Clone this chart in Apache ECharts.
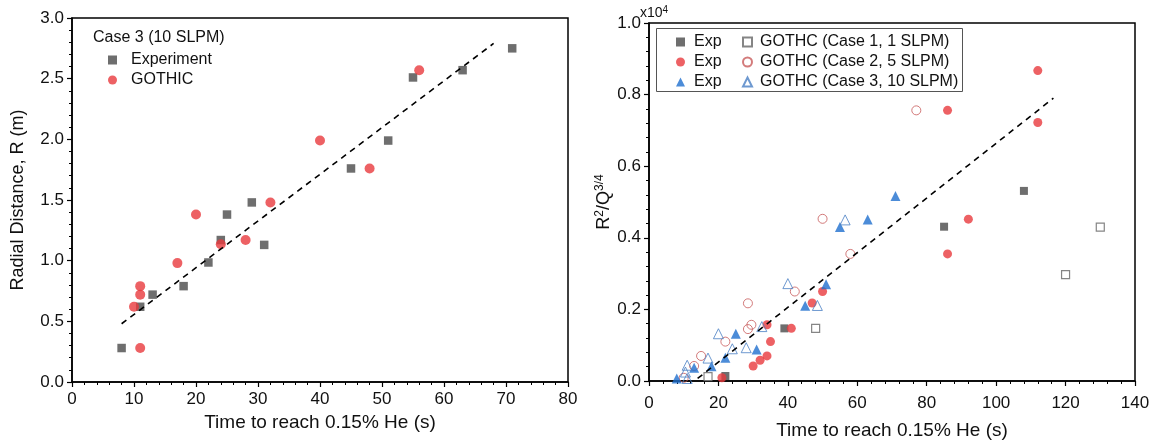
<!DOCTYPE html>
<html>
<head>
<meta charset="utf-8">
<script src="https://cdn.jsdelivr.net/npm/echarts@6/dist/echarts.min.js"></script>
<style>
html,body{margin:0;padding:0;background:#fff;}
#chart{width:1155px;height:445px;}
</style>
</head>
<body>
<div id="chart"></div>
<script>
// ---------- Left panel data (Case 3, 10 SLPM) ----------
const leftExpX = [8, 11, 13, 18, 22, 24, 25, 29, 31, 45, 51, 55, 63, 71];
const leftExpY = [0.28, 0.62, 0.72, 0.79, 0.985, 1.17, 1.38, 1.48, 1.13, 1.76, 1.99, 2.51, 2.57, 2.75];
const leftGothicX = [10, 11, 11, 11, 17, 20, 24, 28, 32, 40, 48, 56];
const leftGothicY = [0.62, 0.28, 0.72, 0.79, 0.98, 1.38, 1.135, 1.17, 1.48, 1.99, 1.76, 2.57];
const leftFitX = [8, 68];
const leftFitY = [0.48, 2.79];

// ---------- Right panel data (R^2/Q^(3/4), x10^4) ----------
const expCase1 = [[22, 0.014], [39, 0.147], [85, 0.431], [108, 0.531]];
const gothicCase1 = [[17, 0.012], [48, 0.147], [120, 0.297], [130, 0.43]];
const expCase2 = [[21, 0.009], [30, 0.042], [32, 0.058], [34, 0.07], [35, 0.11], [34, 0.157], [41, 0.147],
  [47, 0.218], [50, 0.25], [86, 0.355], [86, 0.756], [92, 0.452], [112, 0.722], [112, 0.867]];
const gothicCase2 = [[10, 0.009], [13, 0.042], [15, 0.07], [22, 0.11], [28.5, 0.145], [29.5, 0.157],
  [28.5, 0.217], [42, 0.25], [50, 0.453], [58, 0.355], [77, 0.756]];
const expCase3 = [[8, 0.007], [13, 0.037], [18, 0.041], [22, 0.065], [25, 0.132], [31, 0.088],
  [45, 0.21], [51, 0.27], [55, 0.43], [63, 0.451], [71, 0.517]];
const gothicCase3 = [[11, 0.007], [10.5, 0.025], [11, 0.044], [17, 0.064], [20, 0.132], [24, 0.09],
  [28, 0.093], [32.5, 0.152], [40, 0.272], [48.5, 0.211], [56.5, 0.45]];
const rightFit = [[14, 0.007], [116.5, 0.79]];

const leftXTicks = {min: 0, max: 80, interval: 10};
const leftYTicks = {min: 0, max: 3, interval: 0.5};
const rightXTicks = {min: 0, max: 140, interval: 20};
const rightYTicks = {min: 0, max: 1.0, interval: 0.2};

const zip = (xs, ys) => xs.map((x, i) => [x, ys[i]]);

const RED = '#e8393d';
const BLUE = '#1f6fce';
const GRAY = '#4a4a4a';
const NARROW = "'Liberation Sans Narrow', 'Liberation Sans', Arial, sans-serif";
const SANS = "'Liberation Sans', Arial, sans-serif";

function xAxis(gi, t, nameGap, labelMargin) {
  return {
    type: 'value', gridIndex: gi, min: t.min, max: t.max, interval: t.interval,
    name: 'Time to reach 0.15% He (s)', nameLocation: 'middle', nameGap: nameGap,
    nameTextStyle: {fontFamily: NARROW, fontSize: 19, color: '#111'},
    axisLine: {show: true, onZero: false, lineStyle: {color: '#000', width: 1.5}},
    axisTick: {show: true, inside: false, length: 5, lineStyle: {color: '#000', width: 1.2}},
    minorTick: {show: true, splitNumber: 5, length: 3, lineStyle: {color: '#000', width: 1}},
    axisLabel: {fontFamily: NARROW, fontSize: 17, color: '#111', margin: labelMargin},
    splitLine: {show: false}
  };
}
function yAxis(gi, t, name, nameGap) {
  return {
    type: 'value', gridIndex: gi, min: t.min, max: t.max, interval: t.interval,
    name: name, nameLocation: 'middle', nameGap: nameGap, nameRotate: 90,
    nameTextStyle: {fontFamily: SANS, fontSize: 18, color: '#111',
      rich: {
        b: {fontFamily: SANS, fontSize: 18, color: '#111'},
        sup: {fontFamily: SANS, fontSize: 12, color: '#111', verticalAlign: 'top', padding: [0, 0, 8, 0]}
      }},
    axisLine: {show: true, onZero: false, lineStyle: {color: '#000', width: 1.5}},
    axisTick: {show: true, inside: false, length: 5, lineStyle: {color: '#000', width: 1.2}},
    minorTick: {show: true, splitNumber: 5, length: 3, lineStyle: {color: '#000', width: 1}},
    axisLabel: {fontFamily: NARROW, fontSize: 17, color: '#111', margin: 8,
      formatter: v => v.toFixed(1)},
    splitLine: {show: false}
  };
}

const chart = echarts.init(document.getElementById('chart'), null, {renderer: 'canvas'});
const option = {
  backgroundColor: '#fff',
  animation: false,
  grid: [
    {left: 72, top: 18, width: 496, height: 364, show: true, borderColor: '#000', borderWidth: 1.5, backgroundColor: 'transparent'},
    {left: 649, top: 23, width: 486, height: 361, show: true, borderColor: '#000', borderWidth: 1.5, backgroundColor: 'transparent'}
  ],
  xAxis: [xAxis(0, leftXTicks, 26, 9), xAxis(1, rightXTicks, 40, 14)],
  yAxis: [
    yAxis(0, leftYTicks, 'Radial Distance, R (m)', 45),
    yAxis(1, rightYTicks, '{b|R}{sup|2}{b|/Q}{sup|3/4}', 35)
  ],
  legend: [
    {
      data: ['Experiment', 'GOTHIC'], orient: 'vertical', left: 103, top: 47,
      itemWidth: 9, itemHeight: 9, itemGap: 4,
      textStyle: {fontFamily: SANS, fontSize: 16, color: '#111', padding: [0, 0, 0, 9], lineHeight: 14}
    },
    {
      data: ['Exp (Case 1)', 'Exp (Case 2)', 'Exp (Case 3)'], orient: 'vertical', left: 671, top: 29,
      itemWidth: 9, itemHeight: 9, itemGap: 4, formatter: () => 'Exp',
      textStyle: {fontFamily: SANS, fontSize: 16, color: '#111', padding: [0, 0, 0, 4], lineHeight: 14}
    },
    {
      data: ['GOTHC (Case 1, 1 SLPM)', 'GOTHC (Case 2, 5 SLPM)', 'GOTHC (Case 3, 10 SLPM)'], orient: 'vertical', left: 737, top: 29,
      itemWidth: 9, itemHeight: 9, itemGap: 4,
      textStyle: {fontFamily: SANS, fontSize: 16, color: '#111', padding: [0, 0, 0, 3], lineHeight: 14}
    }
  ],
  graphic: [
    {type: 'text', left: 93, top: 30, style: {text: 'Case 3 (10 SLPM)', font: "16px 'Liberation Sans', Arial, sans-serif", fill: '#111'}},
    {type: 'rect', shape: {x: 656.5, y: 28.5, width: 306, height: 63}, style: {fill: 'none', stroke: '#555', lineWidth: 1}, z: 5},
    {type: 'text', left: 640, top: 5, style: {
      text: 'x10{s|4}', font: "14px 'Liberation Sans', Arial, sans-serif", fill: '#111',
      rich: {s: {fontSize: 10, verticalAlign: 'top', padding: [0, 0, 6, 0], fontFamily: SANS, fill: '#111'}}
    }}
  ],
  series: [
    {name: 'Experiment', type: 'scatter', xAxisIndex: 0, yAxisIndex: 0, data: zip(leftExpX, leftExpY),
      symbol: 'rect', symbolSize: 8.5, itemStyle: {color: GRAY}, z: 3},
    {name: 'GOTHIC', type: 'scatter', xAxisIndex: 0, yAxisIndex: 0, data: zip(leftGothicX, leftGothicY),
      symbol: 'circle', symbolSize: 10, itemStyle: {color: RED}, z: 3},
    {name: 'fitLeft', type: 'line', xAxisIndex: 0, yAxisIndex: 0, data: zip(leftFitX, leftFitY),
      showSymbol: false, symbol: 'none', lineStyle: {color: '#000', width: 1.6, type: [6, 5]}, z: 4, silent: true},

    {name: 'Exp (Case 1)', type: 'scatter', xAxisIndex: 1, yAxisIndex: 1, data: expCase1,
      symbol: 'rect', symbolSize: 8, itemStyle: {color: GRAY}, z: 3},
    {name: 'GOTHC (Case 1, 1 SLPM)', type: 'scatter', xAxisIndex: 1, yAxisIndex: 1, data: gothicCase1,
      symbol: 'rect', symbolSize: 8, itemStyle: {color: '#fff', borderColor: '#666', borderWidth: 1.2}, z: 3},
    {name: 'Exp (Case 2)', type: 'scatter', xAxisIndex: 1, yAxisIndex: 1, data: expCase2,
      symbol: 'circle', symbolSize: 9, itemStyle: {color: RED}, z: 3},
    {name: 'GOTHC (Case 2, 5 SLPM)', type: 'scatter', xAxisIndex: 1, yAxisIndex: 1, data: gothicCase2,
      symbol: 'circle', symbolSize: 9, itemStyle: {color: 'rgba(255,255,255,0)', borderColor: '#c85a5a', borderWidth: 1}, z: 3},
    {name: 'Exp (Case 3)', type: 'scatter', xAxisIndex: 1, yAxisIndex: 1, data: expCase3,
      symbol: 'triangle', symbolSize: 10, itemStyle: {color: BLUE}, z: 3},
    {name: 'GOTHC (Case 3, 10 SLPM)', type: 'scatter', xAxisIndex: 1, yAxisIndex: 1, data: gothicCase3,
      symbol: 'triangle', symbolSize: 10, itemStyle: {color: 'rgba(255,255,255,0)', borderColor: '#4a7fc4', borderWidth: 1}, z: 3},
    {name: 'fitRight', type: 'line', xAxisIndex: 1, yAxisIndex: 1, data: rightFit,
      showSymbol: false, symbol: 'none', lineStyle: {color: '#000', width: 1.6, type: [6, 5]}, z: 4, silent: true}
  ]
};
chart.setOption(option);
</script>
</body>
</html>
